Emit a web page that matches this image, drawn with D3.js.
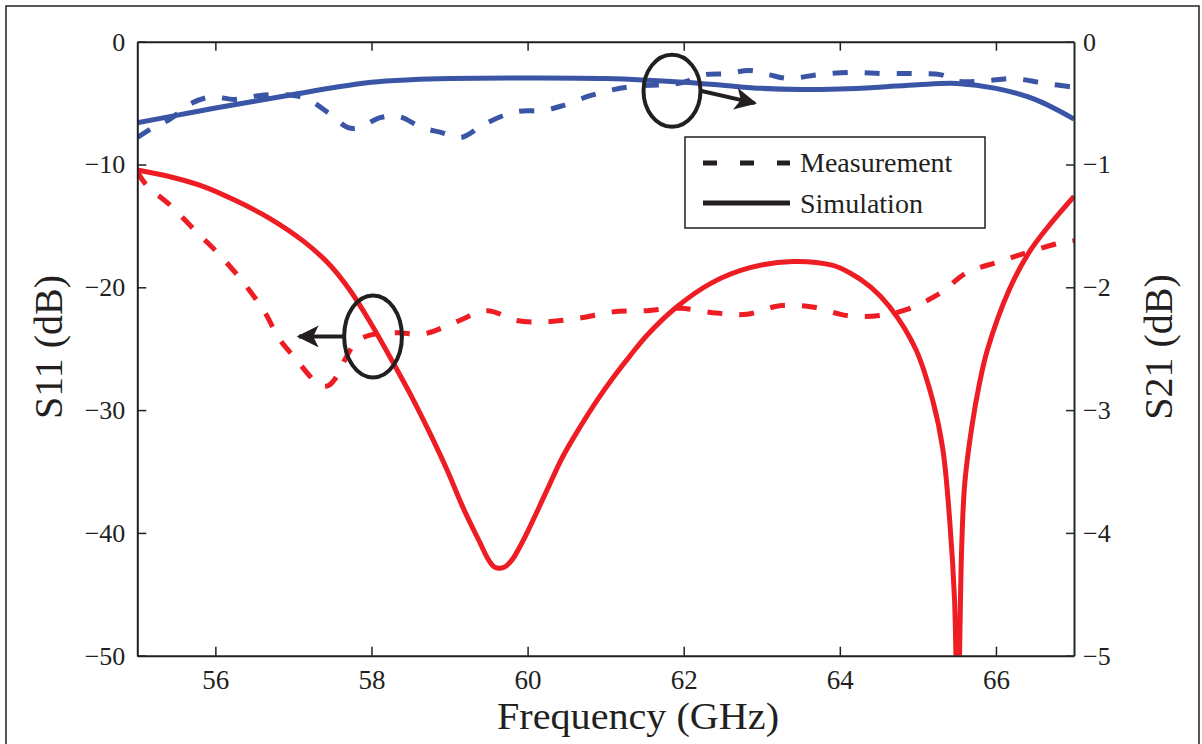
<!DOCTYPE html>
<html>
<head>
<meta charset="utf-8">
<script src="https://cdn.jsdelivr.net/npm/d3@7"></script>
<style>
  html, body { margin: 0; padding: 0; background: #fff; }
  svg { display: block; }
  text { font-family: "Liberation Serif", "Times New Roman", serif; fill: #231f20; }
</style>
</head>
<body>
<svg id="chart" width="1202" height="744"></svg>
<script>
// ---------- data ----------
const freqTicks = [56, 58, 60, 62, 64, 66];
const s11Ticks = [0, -10, -20, -30, -40, -50];
const s21Ticks = [0, -1, -2, -3, -4, -5];

// S11 simulation (GHz, dB)
const s11SimFreq = [55.00, 55.42, 55.85, 56.28, 56.70, 57.14, 57.47, 57.72, 57.98, 58.23, 58.53, 58.75, 58.97, 59.17, 59.39, 59.50, 59.58, 59.70, 59.80, 59.92, 60.03, 60.25, 60.45, 60.67, 60.89, 61.09, 61.31, 61.53, 61.91, 62.37, 62.85, 63.40, 63.90, 64.12, 64.40, 64.64, 64.97, 65.19, 65.32, 65.41, 65.47, 65.51, 65.56, 65.60, 65.69, 65.79, 65.89, 66.17, 66.43, 66.69, 67.00];
const s11SimVal  = [-10.45, -11.0, -11.8, -13.0, -14.4, -16.3, -18.2, -20.2, -22.8, -25.6, -29.1, -31.9, -34.9, -37.9, -40.8, -42.2, -42.8, -42.8, -42.2, -40.9, -39.5, -36.5, -33.8, -31.4, -29.2, -27.4, -25.6, -23.9, -21.6, -19.6, -18.4, -17.9, -18.2, -18.8, -20.0, -21.6, -25.0, -29.2, -33.2, -39.2, -45.5, -56.0, -41.4, -36.0, -31.4, -27.8, -25.1, -20.2, -17.1, -14.9, -12.6];

// S11 measurement (GHz, dB)
const s11MeasFreq = [55.00, 55.12, 55.42, 55.76, 56.06, 56.37, 56.62, 56.83, 57.04, 57.22, 57.34, 57.45, 57.55, 57.65, 57.80, 57.98, 58.32, 58.67, 59.09, 59.48, 59.86, 60.25, 60.67, 61.09, 61.53, 61.95, 62.42, 62.81, 63.23, 63.65, 64.09, 64.51, 64.86, 65.28, 65.63, 66.05, 66.48, 66.82, 67.00];
const s11MeasVal  = [-10.6, -11.7, -13.3, -15.5, -17.4, -19.7, -21.9, -24.3, -25.9, -27.3, -28.0, -28.0, -27.3, -26.0, -24.5, -23.9, -23.7, -23.8, -22.8, -21.9, -22.7, -22.8, -22.5, -22.0, -21.9, -21.7, -22.1, -22.2, -21.5, -21.6, -22.3, -22.3, -21.8, -20.5, -18.8, -17.9, -17.0, -16.4, -16.2];

// S21 simulation (GHz, dB)
const s21SimFreq = [55.0, 55.5, 56.0, 56.5, 57.0, 57.5, 58.0, 58.5, 59.0, 60.0, 61.0, 62.0, 62.5, 63.0, 63.5, 64.0, 64.5, 65.0, 65.5, 66.0, 66.5, 67.0];
const s21SimVal  = [-0.66, -0.60, -0.54, -0.485, -0.43, -0.375, -0.33, -0.31, -0.30, -0.295, -0.30, -0.33, -0.355, -0.38, -0.39, -0.385, -0.37, -0.35, -0.34, -0.38, -0.47, -0.63];

// S21 measurement (GHz, dB)
const s21MeasFreq = [55.00, 55.20, 55.42, 55.70, 55.95, 56.25, 56.55, 56.85, 57.15, 57.45, 57.70, 57.85, 58.10, 58.35, 58.65, 58.90, 59.15, 59.45, 59.85, 60.20, 60.45, 60.80, 61.10, 61.40, 61.75, 62.00, 62.25, 62.55, 62.85, 63.10, 63.35, 63.70, 64.15, 64.55, 64.95, 65.30, 65.50, 65.85, 66.20, 66.55, 66.75, 67.00];
const s21MeasVal  = [-0.78, -0.70, -0.63, -0.50, -0.45, -0.47, -0.44, -0.43, -0.46, -0.58, -0.70, -0.70, -0.62, -0.61, -0.70, -0.74, -0.78, -0.67, -0.57, -0.56, -0.52, -0.44, -0.39, -0.36, -0.35, -0.33, -0.27, -0.26, -0.235, -0.27, -0.30, -0.27, -0.25, -0.26, -0.26, -0.27, -0.32, -0.32, -0.30, -0.33, -0.35, -0.37];

const legendLabels = ["Measurement", "Simulation"];

// annotations (data units: GHz, S11 dB)
const ellipses = [
  { f: 61.85, v: -4.0, rf: 0.365, rv: 2.93, tipF: 62.91, tipV: -5.0, side: 1 },
  { f: 58.02, v: -24.0, rf: 0.37, rv: 3.34, tipF: 57.07, tipV: -24.0, side: -1 }
];

// ---------- layout ----------
const L = 137.3, R = 1074, T = 41.7, B = 655.7;
const RED = "#ee1d23", BLUE = "#3a55a5", INK = "#231f20", RINK = "#1d2b24";

const svg = d3.select("#chart");
const x = d3.scaleLinear().domain([55, 67]).range([L, R]);
const y1 = d3.scaleLinear().domain([-50, 0]).range([B, T]);
const y2 = d3.scaleLinear().domain([-5, 0]).range([B, T]);

// outer frame
svg.append("rect").attr("x", 6).attr("y", 6).attr("width", 1193).attr("height", 760)
  .attr("fill", "none").attr("stroke", INK).attr("stroke-width", 1.5);

const defs = svg.append("defs");
defs.append("clipPath").attr("id", "plotclip")
  .append("rect").attr("x", L).attr("y", T).attr("width", R - L).attr("height", B - T);

const plot = svg.append("g").attr("clip-path", "url(#plotclip)");

const curve = d3.curveCatmullRom.alpha(0.5);
const lineS11 = d3.line().x(d => x(d[0])).y(d => y1(d[1])).curve(curve);
const lineS21 = d3.line().x(d => x(d[0])).y(d => y2(d[1])).curve(curve);
const zip = (a, b) => a.map((v, i) => [v, b[i]]);

plot.append("path").attr("d", lineS21(zip(s21SimFreq, s21SimVal)))
  .attr("fill", "none").attr("stroke", BLUE).attr("stroke-width", 5);
plot.append("path").attr("d", lineS21(zip(s21MeasFreq, s21MeasVal)))
  .attr("fill", "none").attr("stroke", BLUE).attr("stroke-width", 5).attr("stroke-dasharray", "15,17");
plot.append("path").attr("d", lineS11(zip(s11SimFreq, s11SimVal)))
  .attr("fill", "none").attr("stroke", RED).attr("stroke-width", 5);
plot.append("path").attr("d", lineS11(zip(s11MeasFreq, s11MeasVal)))
  .attr("fill", "none").attr("stroke", RED).attr("stroke-width", 5).attr("stroke-dasharray", "15,17");

// ---------- axes ----------
const fmt = d3.format("d");
const ax = (g, axis, color, size) => {
  g.call(axis);
  g.selectAll(".domain").attr("stroke", color).attr("stroke-width", 2);
  g.selectAll(".tick line").attr("stroke", color).attr("stroke-width", 1.5);
  g.selectAll("text").attr("fill", color)
    .style("font-family", '"Liberation Serif", serif').style("font-size", size + "px");
};
ax(svg.append("g").attr("transform", `translate(0,${B})`),
  d3.axisBottom(x).tickValues(freqTicks).tickFormat(fmt).tickSizeInner(-9).tickSizeOuter(0).tickPadding(14), INK, 27);
ax(svg.append("g").attr("transform", `translate(0,${T})`),
  d3.axisTop(x).tickValues(freqTicks).tickFormat("").tickSizeInner(-9).tickSizeOuter(0), INK, 27);
ax(svg.append("g").attr("transform", `translate(${L},0)`),
  d3.axisLeft(y1).tickValues(s11Ticks).tickFormat(fmt).tickSizeInner(-9).tickSizeOuter(0).tickPadding(12), INK, 26);
ax(svg.append("g").attr("transform", `translate(${R},0)`),
  d3.axisRight(y2).tickValues(s21Ticks).tickFormat(fmt).tickSizeInner(-8).tickSizeOuter(0).tickPadding(9), RINK, 26);

// axis titles
svg.append("text").attr("x", 638).attr("y", 729).attr("text-anchor", "middle")
  .attr("textLength", 282).attr("lengthAdjust", "spacingAndGlyphs")
  .style("font-size", "38px").text("Frequency (GHz)");
svg.append("text").attr("transform", `translate(62,347) rotate(-90)`).attr("text-anchor", "middle")
  .style("font-size", "40px").text("S11 (dB)");
svg.append("text").attr("transform", `translate(1172,347) rotate(-90)`).attr("text-anchor", "middle")
  .style("font-size", "40px").text("S21 (dB)");

// ---------- legend ----------
const lg = svg.append("g");
lg.append("rect").attr("x", 685).attr("y", 137).attr("width", 300).attr("height", 91)
  .attr("fill", "#fff").attr("stroke", INK).attr("stroke-width", 1.5);
lg.append("line").attr("x1", 703).attr("x2", 790).attr("y1", 163).attr("y2", 163)
  .attr("stroke", INK).attr("stroke-width", 5).attr("stroke-dasharray", "14,23");
lg.append("line").attr("x1", 703).attr("x2", 790).attr("y1", 203).attr("y2", 203)
  .attr("stroke", INK).attr("stroke-width", 5);
lg.append("text").attr("x", 800).attr("y", 172).style("font-size", "28px").text(legendLabels[0]);
lg.append("text").attr("x", 800).attr("y", 213).style("font-size", "28px").text(legendLabels[1]);

// ---------- annotations ----------
defs.append("marker").attr("id", "ahead")
  .attr("viewBox", "0 0 10 10").attr("refX", 9).attr("refY", 5)
  .attr("markerWidth", 6.5).attr("markerHeight", 5.5).attr("markerUnits", "strokeWidth")
  .attr("orient", "auto")
  .append("path").attr("d", "M0,0 L10,5 L0,10 L2.5,5 Z").attr("fill", INK);

ellipses.forEach(e => {
  const cx = x(e.f), cy = y1(e.v);
  const rx = x(e.f + e.rf) - cx, ry = y1(e.v - e.rv) - cy;
  svg.append("ellipse").attr("cx", cx).attr("cy", cy).attr("rx", rx).attr("ry", ry)
    .attr("fill", "none").attr("stroke", INK).attr("stroke-width", 4);
  const sx = cx + e.side * rx;
  svg.append("line").attr("x1", sx).attr("y1", cy).attr("x2", x(e.tipF)).attr("y2", y1(e.tipV))
    .attr("stroke", INK).attr("stroke-width", 4).attr("marker-end", "url(#ahead)");
});
</script>
</body>
</html>
